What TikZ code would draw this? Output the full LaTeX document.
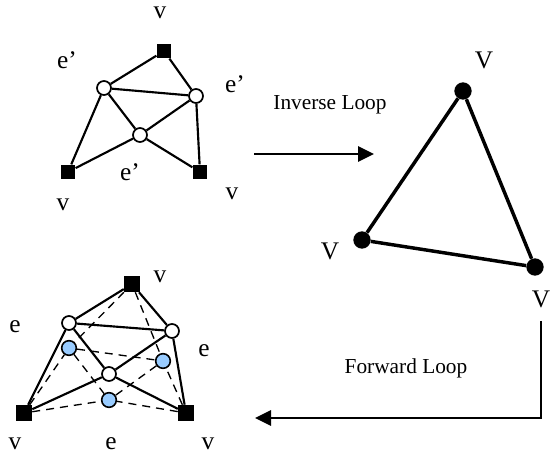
\documentclass[tikz,border=0pt]{standalone}
\usepackage{fontspec}
\setmainfont{Liberation Serif}
\usetikzlibrary{arrows.meta}
\definecolor{paleblue}{RGB}{153,204,255}

\begin{document}
\begin{tikzpicture}[
  x=0.75pt, y=-0.75pt,
  bigsquare/.style={rectangle, fill=black, minimum size=11pt, inner sep=0pt},
  lowsquare/.style={rectangle, fill=black, minimum size=12pt, inner sep=0pt},
  oddcircle/.style={circle, draw=black, fill=white, minimum size=10.5pt, line width=1.3pt, inner sep=0pt},
  bluecircle/.style={circle, draw=black, fill=paleblue, minimum size=11pt, line width=1.2pt, inner sep=0pt},
  bigdot/.style={circle, fill=black, minimum size=13pt, inner sep=0pt},
  solidedge/.style={line width=1.6pt},
  dashedge/.style={line width=1pt, dash pattern=on 6pt off 4.5pt},
  thickedge/.style={line width=2.6pt},
  loopline/.style={line width=1.3pt},
  biglabel/.style={font=\fontsize{19}{21}\selectfont, inner sep=0pt},
  looplabel/.style={font=\fontsize{16}{18}\selectfont, inner sep=0pt}
]
  \useasboundingbox (0, 0) rectangle (551, 456);

  % coarse mesh, top left
  \node[bigsquare] (t1) at (164, 51) {};
  \node[bigsquare] (t2) at (68, 172) {};
  \node[bigsquare] (t3) at (200, 172) {};
  \node[oddcircle] (o1) at (104, 88) {};
  \node[oddcircle] (o2) at (196, 96) {};
  \node[oddcircle] (o3) at (140, 135) {};

  \foreach \a/\b in {t1/o1, t1/o2, t2/o1, t2/o3, t3/o2, t3/o3, o1/o2, o1/o3, o2/o3} {
    \draw[solidedge] (\a) -- (\b);
  }

  \node[biglabel] (lt1) at (160, 13) {v};
  \node[biglabel] (lt2) at (63, 205) {v};
  \node[biglabel] (lt3) at (232, 194) {v};
  \node[biglabel] (lo1) at (67, 60) {e’};
  \node[biglabel] (lo2) at (235, 84) {e’};
  \node[biglabel] (lo3) at (130, 172) {e’};

  % triangle
  \node[bigdot] (v1) at (463, 91) {};
  \node[bigdot] (v2) at (362, 240) {};
  \node[bigdot] (v3) at (535, 267) {};
  \draw[thickedge] (v1) -- (v2);
  \draw[thickedge] (v2) -- (v3);
  \draw[thickedge] (v3) -- (v1);

  \node[biglabel] (lv1) at (484, 60) {V};
  \node[biglabel] (lv2) at (330, 251) {V};
  \node[biglabel] (lv3) at (541, 299) {V};

  % fine mesh, bottom left
  \node[lowsquare] (b1) at (132, 284) {};
  \node[lowsquare] (b2) at (24, 413) {};
  \node[lowsquare] (b3) at (186, 413) {};
  \node[oddcircle] (p1) at (69, 323) {};
  \node[oddcircle] (p2) at (172, 331) {};
  \node[oddcircle] (p3) at (109, 374) {};
  \node[bluecircle] (q1) at (69, 348) {};
  \node[bluecircle] (q2) at (163, 361) {};
  \node[bluecircle] (q3) at (109, 400) {};

  \foreach \a/\b in {b1/p1, b1/p2, b2/p1, b2/p3, b3/p2, b3/p3, p1/p2, p1/p3, p2/p3} {
    \draw[solidedge] (\a) -- (\b);
  }
  \foreach \a/\b in {b1/q1, b1/q2, b2/q1, b2/q3, b3/q2, b3/q3, q1/q2, q1/q3, q2/q3} {
    \draw[dashedge] (\a) -- (\b);
  }

  \node[biglabel] (lb1) at (160, 277) {v};
  \node[biglabel] (lb2) at (15, 444) {v};
  \node[biglabel] (lb3) at (208, 444) {v};
  \node[biglabel] (lp1) at (15, 327) {e};
  \node[biglabel] (lp2) at (204, 351) {e};
  \node[biglabel] (lp3) at (111, 444) {e};

  % the two loops
  \coordinate (inv1) at (254, 154);
  \coordinate (inv2) at (374, 154);
  \draw[loopline, -{Triangle[length=12pt, width=11.5pt]}] (inv1) -- (inv2);
  \node[looplabel] (linv) at (330, 105) {Inverse Loop};

  \coordinate (fwd1) at (541, 321);
  \coordinate (fwd2) at (541, 418);
  \coordinate (fwd3) at (255, 418);
  \draw[loopline, -{Triangle[length=12pt, width=11.5pt]}] (fwd1) -- (fwd2) -- (fwd3);
  \node[looplabel] (lfwd) at (406, 368) {Forward Loop};
\end{tikzpicture}
\end{document}
